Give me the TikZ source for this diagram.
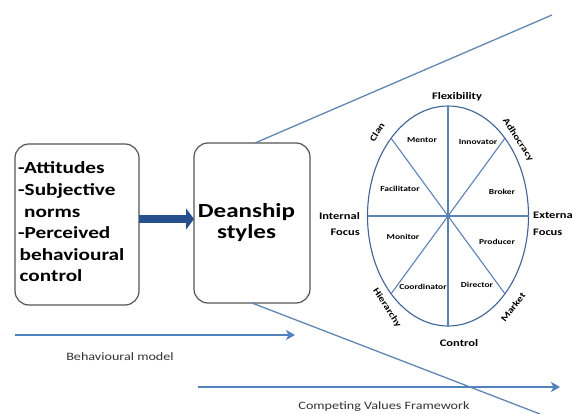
\documentclass[tikz,border=0pt]{standalone}
\usepackage{fontspec}
\setmainfont{Carlito}[FakeStretch=1.25]
\usetikzlibrary{arrows.meta,shapes.geometric}
\definecolor{fanblue}{HTML}{5F87B2}
\definecolor{arrblue}{HTML}{4F81BD}
\definecolor{darkarr}{HTML}{25508C}
\definecolor{elline}{HTML}{3D6395}
\definecolor{spokeblue}{HTML}{5A82B4}
\definecolor{boxline}{HTML}{555555}
\definecolor{captext}{HTML}{333333}
\begin{document}
\begin{tikzpicture}[x=1pt,y=-1pt,
  roundbox/.style={draw=boxline,line width=1.2pt,rounded corners=14pt,inner sep=0pt,outer sep=0pt},
  bigarrow/.style={draw=darkarr,line width=7.5pt,-{Triangle[width=21pt,length=8pt]}},
  fanline/.style={draw=fanblue,line width=1.3pt},
  spoke/.style={draw=spokeblue,line width=1.1pt},
  lab/.style={font=\fontsize{7.6}{8}\selectfont\bfseries,inner sep=0pt},
  axislab/.style={font=\fontsize{10}{16.5}\selectfont\bfseries,inner sep=0pt},
  quadlab/.style={font=\fontsize{9}{10}\selectfont\bfseries,inner sep=0pt},
  thinarrow/.style={draw=arrblue,line width=2pt,-{Stealth[length=9pt,width=10pt,inset=2.5pt]}},
  caption/.style={font=\fontsize{11.3}{13}\selectfont,text=captext,inner sep=0pt}]
\useasboundingbox (0,0) rectangle (572,414);

% boxes
\node[roundbox,minimum width=124pt,minimum height=161pt] (lbox) at (77,224.5) {};
\node[font=\fontsize{17}{21.6}\selectfont\bfseries,align=left,anchor=west,inner sep=0pt] (ltext) at (18,222)
  {-Attitudes\\-Subjective\\\hspace*{6pt}norms\\-Perceived\\\hspace*{1.5pt}behavioural\\\hspace*{1.5pt}control};
\node[roundbox,minimum width=116pt,minimum height=160pt] (dbox) at (252,223) {};
\node[align=center,inner sep=0pt,font=\fontsize{20}{21}\selectfont\bfseries] (dtext) at (246.5,223) {Deanship\\styles};

\draw[bigarrow] ([yshift=5.5pt]lbox.east) -- ([yshift=5.5pt]lbox.east -| dbox.west);

% fan lines
\coordinate (ftop) at (552,15);
\coordinate (fbot) at (540,414);
\draw[fanline] ([xshift=3pt]dbox.north) -- (ftop);
\draw[fanline] (dbox.south) -- (fbot);

% competing values wheel
\node[ellipse,draw=elline,line width=1.1pt,minimum width=161pt,minimum height=220pt,inner sep=0pt,outer sep=0pt] (E) at (448,216) {};
\draw[spoke] (E.north) -- (E.south);
\draw[spoke] (E.west) -- (E.east);
\draw[spoke] (E.north west) -- (E.south east);
\draw[spoke] (E.north east) -- (E.south west);
\fill[arrblue] (E.center) circle (1.6pt);

\node[lab] (mentor) at (422,140) {Mentor};
\node[lab] (innov) at (478,142) {Innovator};
\node[lab] (facil) at (400,189) {Facilitator};
\node[lab] (broker) at (502,192) {Broker};
\node[lab] (monitor) at (403,237) {Monitor};
\node[lab] (producer) at (497,242) {Producer};
\node[lab] (coord) at (423,287) {Coordinator};
\node[lab] (director) at (477,285) {Director};

\node[axislab] (flex) at (457,97) {Flexibility};
\node[axislab] (control) at (459,343) {Control};
\node[axislab,align=right,anchor=east] (intf) at (360,224) {Internal\\Focus};
\node[axislab,align=left,anchor=west] (extf) at (533,223.5) {External\\Focus};

\node[quadlab,rotate=58] (clan) at (377,132) {Clan};
\node[quadlab,rotate=-57] (adhoc) at (518,140) {Adhocracy};
\node[quadlab,rotate=-57] (hier) at (387,308) {Hierarchy};
\node[quadlab,rotate=52] (market) at (513,307) {Market};

% bottom arrows
\coordinate (bm1) at (15,335);
\coordinate (bm2) at (295,335);
\draw[thinarrow] (bm1) -- (bm2);
\node[caption] (bmt) at (120,357) {Behavioural model};
\coordinate (cv1) at (198,387);
\coordinate (cv2) at (560,387);
\draw[thinarrow] (cv1) -- (cv2);
\node[caption] (cvt) at (384,407) {Competing Values Framework};
\end{tikzpicture}
\end{document}
